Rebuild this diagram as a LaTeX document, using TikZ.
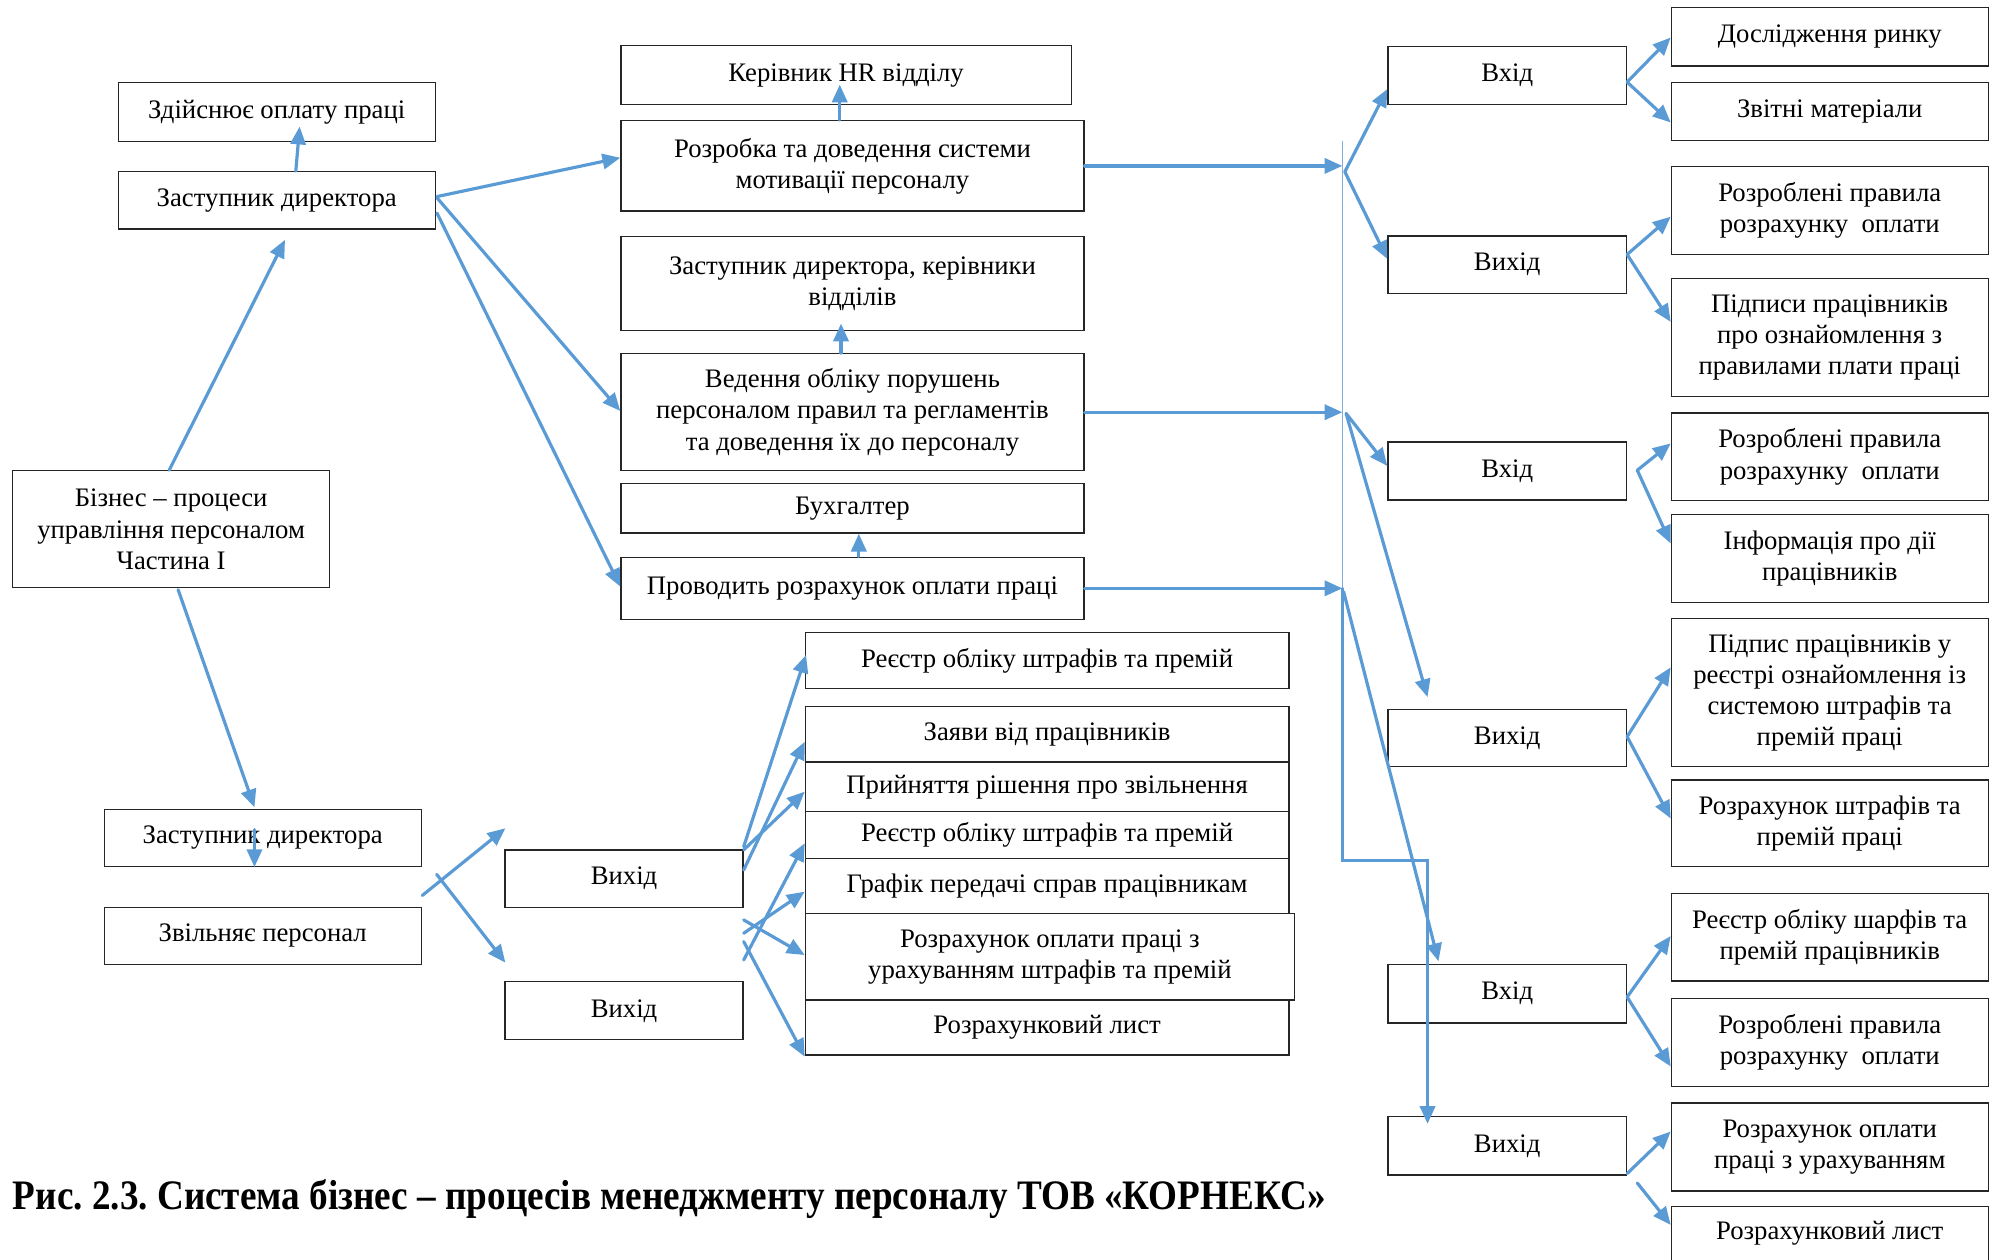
\documentclass[tikz,border=0pt]{standalone}
\usepackage{fontspec}
\setmainfont{Liberation Serif}
\usetikzlibrary{arrows.meta,calc}
\definecolor{arrblue}{HTML}{5B9BD5}
\definecolor{thinblue}{HTML}{7FAEDD}
\frenchspacing
\begin{document}
\begin{tikzpicture}[x=1pt,y=-1pt,
  box/.style={draw=black!85, line width=1pt, inner sep=0pt, align=center,
    font=\fontsize{21}{24.5}\selectfont},
  arr/.style={draw=arrblue, line width=2.5pt, line cap=round,
    -{Triangle[length=14pt,width=12pt]}},
  ln/.style={draw=arrblue, line width=2.5pt},
  thin/.style={draw=thinblue, line width=1.2pt}]
\useasboundingbox (0,0) rectangle (1568,990);
\clip (0,0) rectangle (1568,990);
% left column
\node[box, minimum width=249pt, minimum height=46pt] (N1) at (217.5,88) {Здійснює оплату праці};
\node[box, minimum width=249pt, minimum height=45pt] (N2) at (217.5,157.5) {Заступник директора};
\node[box, minimum width=249pt, minimum height=92pt] (N3) at (134.5,416) {Бізнес – процеси\\управління персоналом\\Частина І};
\node[box, minimum width=249pt, minimum height=45pt] (N4) at (206.5,658.5) {Заступник директора};
\node[box, minimum width=249pt, minimum height=45pt] (N5) at (206.5,735.5) {Звільняє персонал};
% middle column
\node[box, minimum width=354pt, minimum height=46pt] (M1) at (665,59) {Керівник HR відділу};
\node[box, minimum width=364pt, minimum height=71pt] (M2) at (670,130.4) {Розробка та доведення системи\\мотивації персоналу};
\node[box, minimum width=364pt, minimum height=73.7pt] (M3) at (670,223) {Заступник директора, керівники\\відділів};
\node[box, minimum width=364pt, minimum height=92pt] (M4) at (670,324) {Ведення обліку порушень\\персоналом правил та регламентів\\та доведення їх до персоналу};
\node[box, minimum width=364pt, minimum height=39pt] (M5) at (670,399.5) {Бухгалтер};
\node[box, minimum width=364pt, minimum height=48.8pt] (M6) at (670,462.4) {Проводить розрахунок оплати праці};
% lower middle
\node[box, minimum width=187pt, minimum height=45pt] (V1) at (490.5,690.5) {Вихід};
\node[box, minimum width=187pt, minimum height=45.7pt] (V2) at (490.5,794.4) {Вихід};
\node[box, minimum width=380pt, minimum height=44pt] (L1) at (823,519) {Реєстр обліку штрафів та премій};
\node[box, minimum width=380pt, minimum height=44pt] (L2) at (823,577) {Заяви від працівників};
\node[box, minimum width=380pt, minimum height=39pt] (L3) at (823,618.5) {Прийняття рішення про звільнення};
\node[box, minimum width=380pt, minimum height=36.6pt] (L4) at (823,656.3) {Реєстр обліку штрафів та премій};
\node[box, minimum width=380pt, minimum height=43.3pt] (L5) at (823,696.2) {Графік передачі справ працівникам};
\node[box, minimum width=384.5pt, minimum height=68pt] (L6) at (825.2,752) {Розрахунок оплати праці з\\урахуванням штрафів та премій};
\node[box, minimum width=380pt, minimum height=43pt] (L7) at (823,807.6) {Розрахунковий лист};
% right: inputs / outputs
\node[box, minimum width=187.5pt, minimum height=45.6pt] (RV1) at (1184.6,59.5) {Вхід};
\node[box, minimum width=187.5pt, minimum height=45pt] (RV2) at (1184.6,208) {Вихід};
\node[box, minimum width=187.5pt, minimum height=45.7pt] (RV3) at (1184.6,370.2) {Вхід};
\node[box, minimum width=187.5pt, minimum height=45.3pt] (RV4) at (1184.6,580) {Вихід};
\node[box, minimum width=187.5pt, minimum height=46pt] (RV5) at (1184.6,781) {Вхід};
\node[box, minimum width=187.5pt, minimum height=45.6pt] (RV6) at (1184.6,900.6) {Вихід};
% right column
\node[box, minimum width=249pt, minimum height=45.7pt] (R1) at (1438.1,29) {Дослідження ринку};
\node[box, minimum width=249pt, minimum height=45.7pt] (R2) at (1438.1,87.5) {Звітні матеріали};
\node[box, minimum width=249pt, minimum height=69pt] (R3) at (1438.1,165.5) {Розроблені правила\\розрахунку\ \ оплати};
\node[box, minimum width=249pt, minimum height=92.6pt] (R4) at (1438.1,265.3) {Підписи працівників\\про ознайомлення з\\правилами плати праці};
\node[box, minimum width=249pt, minimum height=69pt] (R5) at (1438.1,359.1) {Розроблені правила\\розрахунку\ \ оплати};
\node[box, minimum width=249pt, minimum height=69.3pt] (R6) at (1438.1,439.1) {Інформація про дії\\працівників};
\node[box, minimum width=249pt, minimum height=116.3pt] (R7) at (1438.1,544.5) {Підпис працівників у\\реєстрі ознайомлення із\\системою штрафів та\\премій праці};
\node[box, minimum width=249pt, minimum height=68pt] (R8) at (1438.1,647) {Розрахунок штрафів та\\премій праці};
\node[box, minimum width=249pt, minimum height=69pt] (R9) at (1438.1,736.5) {Реєстр обліку шарфів та\\премій працівників};
\node[box, minimum width=249pt, minimum height=69pt] (R10) at (1438.1,819.5) {Розроблені правила\\розрахунку\ \ оплати};
\node[box, minimum width=249pt, minimum height=69pt] (R11) at (1438.1,901.5) {Розрахунок оплати\\праці з урахуванням};
\node[box, minimum width=249pt, minimum height=46pt] (R12) at (1438.1,971) {};
\node[font=\fontsize{21}{24.5}\selectfont, inner sep=0pt] (R12t) at (1438.1,969) {Розрахунковий лист};
% caption
\node[anchor=west, inner sep=0pt] (cap) at (10,942)
  {\scalebox{0.885}[1]{\bfseries\fontsize{33}{36}\selectfont Рис. 2.3. Система бізнес – процесів менеджменту персоналу ТОВ «КОРНЕКС»}};
% junction coordinates
\coordinate (Jtop) at (1055,110.6);
\coordinate (J1) at (1055,130.4);
\coordinate (J2) at (1055,324);
\coordinate (J3) at (1055,462.4);
\coordinate (K1) at (1055,676);
\coordinate (K2) at (1122,676);
\coordinate (S1) at (1057,135);
\coordinate (S2) at (1058,325);
\coordinate (S3) at (1056,465);
% left arrows
\draw[arr] ($(N3.north)+(-1.5,0)$) -- ($(N2.south)+(6.5,8)$);
\draw[arr] ($(N2.north)+(15,0)$) -- ($(N1.south)+(18,-12)$);
\draw[arr] ($(N2.east)+(1,-3)$) -- ($(M2.west)+(0,-6.4)$);
\draw[arr] ($(N2.east)+(1,-2)$) -- ($(M4.west)+(0,-1)$);
\draw[arr] ($(N2.east)+(1,10)$) -- ($(M6.west)+(0,-1.4)$);
% middle vertical arrows
\draw[arr] ($(M2.north)+(-10,0)$) -- ($(M1.south)+(-5,-16)$);
\draw[arr] ($(M4.north)+(-9,0)$) -- ($(M3.south)+(-9,-6)$);
\draw[arr] ($(M6.north)+(5,0)$) -- ($(M5.south)+(5,0)$);
% to junctions
\draw[thin] (Jtop) -- (J3);
\draw[arr] (M2.east) -- (J1);
\draw[arr] (M4.east) -- (J2);
\draw[arr] (M6.east) -- (J3);
\draw[arr] (J3) -- (K1) -- (K2) -- ($(RV6.north)+(-62.6,6)$);
% junction branches
\draw[arr] (S1) -- ($(RV1.west)+(0,10.5)$);
\draw[arr] (S1) -- ($(RV2.west)+(0,-4.5)$);
\draw[arr] (S2) -- ($(RV3.west)+(0,-4)$);
\draw[arr] (S2) -- ($(RV4.north)+(-62.6,-9)$);
\draw[arr] (S3) -- ($(RV5.north)+(-54,-2)$);
% right branches
\draw[arr] ($(RV1.east)+(0,5)$) -- ($(R1.west)+(0,0.5)$);
\draw[arr] ($(RV1.east)+(0,5)$) -- ($(R2.west)+(0,8.8)$);
\draw[arr] ($(RV2.east)+(0,-8)$) -- ($(R3.west)+(0,4.8)$);
\draw[arr] ($(RV2.east)+(0,-8)$) -- ($(R4.west)+(0,-12.3)$);
\draw[arr] ($(RV3.east)+(8,-0.6)$) -- ($(R5.west)+(0,-10.6)$);
\draw[arr] ($(RV3.east)+(8,-0.6)$) -- ($(R6.west)+(0,-12)$);
\draw[arr] ($(RV4.east)+(0,-1)$) -- ($(R7.west)+(0,-20)$);
\draw[arr] ($(RV4.east)+(0,-1)$) -- ($(R8.west)+(0,-3.7)$);
\draw[arr] ($(RV5.east)+(0,2.6)$) -- ($(R9.west)+(0,-0.8)$);
\draw[arr] ($(RV5.east)+(0,2.6)$) -- ($(R10.west)+(0,18.7)$);
\draw[arr] ($(RV6.east)+(0,21.8)$) -- ($(R11.west)+(0,-12.2)$);
\draw[arr] ($(RV6.east)+(8,29.2)$) -- ($(R12.west)+(0,-8.3)$);
% lower left arrows
\draw[arr] ($(N3.south)+(5.5,1)$) -- ($(N4.north)+(-6.5,-1)$);
\draw[arr] ($(N4.center)+(-6.5,-6.5)$) -- ($(N4.south)+(-6.5,0)$);
\draw[arr] ($(N5.north east)+(0.4,-8.7)$) -- ($(V1.west)+(0.7,-39.5)$);
\draw[arr] ($(N5.north east)+(11.7,-25.3)$) -- ($(V2.west)+(0.7,-37.8)$);
% V1 to list
\draw[arr] ($(V1.east)+(0,-25)$) -- ($(L1.west)+(1,-4.2)$);
\draw[arr] ($(V1.east)+(0,-6.7)$) -- ($(L2.west)+(0,6)$);
\draw[arr] ($(V1.east)+(0,-22.5)$) -- ($(L3.west)+(0,3.7)$);
\draw[arr] ($(V1.east)+(0,64)$) -- ($(L4.west)+(0,6.5)$);
\draw[arr] ($(V1.east)+(0,43)$) -- ($(L5.west)+(0,4.6)$);
\draw[arr] ($(V1.east)+(0,32.5)$) -- ($(L6.west)+(0,-1.4)$);
\draw[arr] ($(V1.east)+(0,49.5)$) -- ($(L7.west)+(0,22.9)$);
\end{tikzpicture}
\end{document}
